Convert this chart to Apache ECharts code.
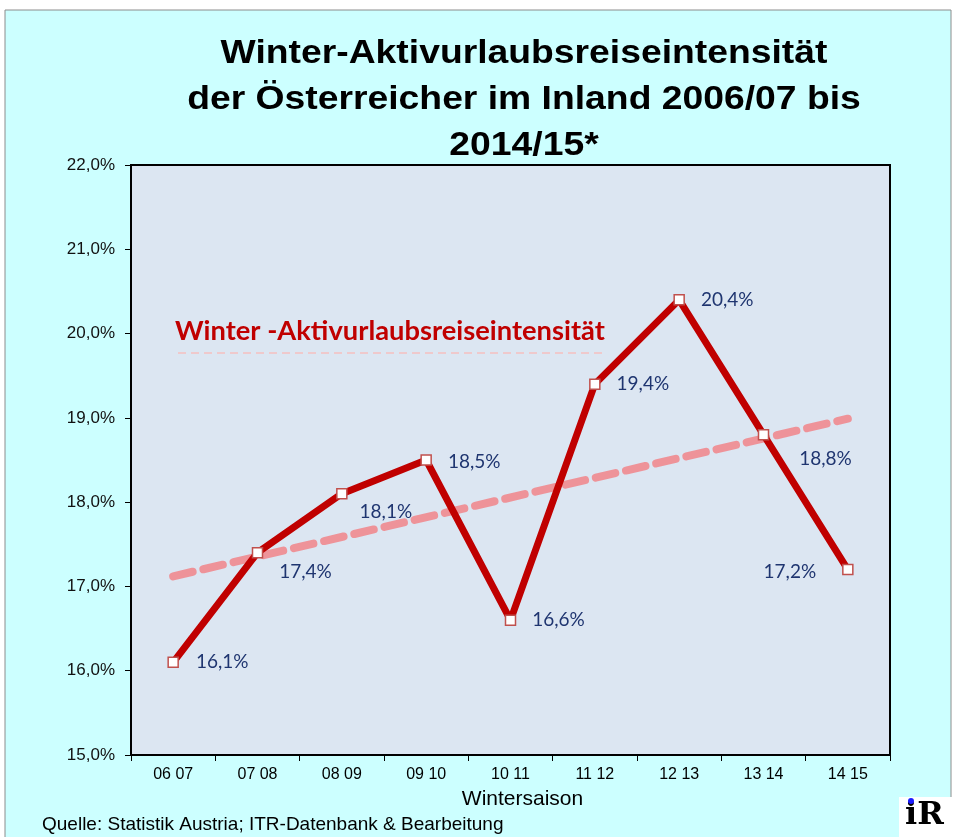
<!DOCTYPE html>
<html>
<head>
<meta charset="utf-8">
<script src="https://cdn.jsdelivr.net/npm/echarts@6/dist/echarts.min.js"></script>
<style>
  html, body { margin: 0; padding: 0; background: #ffffff; }
  #main { width: 955px; height: 837px; }
</style>
</head>
<body>
<div id="main"></div>
<script>
// Winter-Aktivurlaubsreiseintensität, Werte
const seasons = ['06 07', '07 08', '08 09', '09 10', '10 11', '11 12', '12 13', '13 14', '14 15']
const intensity = [16.1, 17.4, 18.1, 18.5, 16.6, 19.4, 20.4, 18.8, 17.2]
const trend = [17.12, null, null, null, null, null, null, null, 18.99]
const yTicks = { min: 15, max: 22, interval: 1 }

// Beschriftungsversatz je Punkt (Pixel)
const labelOffsets = [
  [11, 0], [10, 19], [6, 18], [10, 2], [10, 0], [10, 0], [10, 0], [24, 24], [-96, 2]
]

function pct(v) {
  return v.toFixed(1).replace('.', ',') + '%'
}

const chart = echarts.init(document.getElementById('main'), null, { renderer: 'canvas' })

const option = {
  backgroundColor: '#ffffff',
  animation: false,
  graphic: [
    {
      type: 'rect', z: -10, silent: true,
      shape: { x: 5, y: 10, width: 946, height: 840 },
      style: { fill: '#ccffff', stroke: '#8c8c8c', lineWidth: 1 }
    },
    {
      // Titel, leicht in die Breite gezogen wie im Original
      type: 'text', x: 524, y: 31, scaleX: 1.13,
      style: {
        text: 'Winter-Aktivurlaubsreiseintensität\nder Österreicher im Inland 2006/07 bis\n2014/15*',
        align: 'center',
        verticalAlign: 'top',
        lineHeight: 46,
        fill: '#000',
        font: 'bold 33px "Liberation Sans", Arial, sans-serif'
      }
    },
    {
      type: 'text', z: 10, x: 175, y: 319, scaleX: 1.05,
      style: {
        text: 'Winter -Aktivurlaubsreiseintensität',
        fill: '#c00000',
        font: 'bold 26px Lato, "Open Sans", sans-serif'
      }
    },
    {
      type: 'line', z: 10, silent: true,
      shape: { x1: 178, y1: 353, x2: 605, y2: 353 },
      style: { stroke: '#efc9cc', lineWidth: 2, lineDash: [8, 5] }
    },
    {
      type: 'text', left: 42, top: 815,
      style: {
        text: 'Quelle: Statistik Austria; ITR-Datenbank & Bearbeitung',
        fill: '#000',
        font: '19px "Liberation Sans", Arial, sans-serif'
      }
    },
    {
      type: 'rect', silent: true,
      shape: { x: 899, y: 797, width: 56, height: 40 },
      style: { fill: '#ffffff' }
    },
    {
      type: 'text', left: 905, top: 800,
      style: { text: 'iR', fill: '#000', font: 'bold 32px "DejaVu Serif", serif' }
    },
    {
      type: 'circle', silent: true,
      shape: { cx: 911, cy: 801, r: 3 },
      style: { fill: '#1a1aff' }
    }
  ],
  grid: {
    left: 131,
    right: 65,
    top: 165,
    bottom: 82,
    show: true,
    backgroundColor: '#dce6f2',
    borderColor: '#000',
    borderWidth: 2
  },
  xAxis: {
    type: 'category',
    data: seasons,
    boundaryGap: true,
    name: 'Wintersaison',
    nameLocation: 'middle',
    nameGap: 34,
    nameTextStyle: {
      fontFamily: 'Liberation Sans, Arial, sans-serif',
      fontSize: 21,
      color: '#000',
      padding: [0, 0, 0, 24]
    },
    axisLine: { lineStyle: { color: '#000', width: 2 } },
    axisTick: { show: true, length: 6, lineStyle: { color: '#000' } },
    axisLabel: {
      margin: 12,
      fontFamily: 'Liberation Sans, Arial, sans-serif',
      fontSize: 16,
      color: '#000'
    },
    splitLine: { show: false }
  },
  yAxis: {
    type: 'value',
    min: yTicks.min,
    max: yTicks.max,
    interval: yTicks.interval,
    axisLine: { show: true, lineStyle: { color: '#000', width: 2 } },
    axisTick: { show: true, length: 6, lineStyle: { color: '#000' } },
    axisLabel: {
      margin: 16,
      formatter: pct,
      fontFamily: 'Liberation Sans, Arial, sans-serif',
      fontSize: 17,
      color: '#111'
    },
    splitLine: { show: false }
  },
  series: [
    {
      name: 'Trend',
      type: 'line',
      data: trend,
      connectNulls: true,
      symbol: 'none',
      silent: true,
      z: 2,
      lineStyle: {
        color: '#ef8a8f',
        width: 8,
        type: [20, 11],
        cap: 'round',
        opacity: 0.9
      }
    },
    {
      name: 'Winter -Aktivurlaubsreiseintensität',
      type: 'line',
      z: 3,
      data: intensity.map((v, i) => ({
        value: v,
        label: { offset: labelOffsets[i] }
      })),
      symbol: 'rect',
      symbolSize: 10,
      itemStyle: { color: '#ffffff', borderColor: '#c0504d', borderWidth: 1.5 },
      lineStyle: { color: '#c00000', width: 7 },
      label: {
        show: true,
        position: 'right',
        distance: 6,
        formatter: p => pct(p.value),
        fontFamily: 'Lato, "Open Sans", sans-serif',
        fontSize: 19,
        color: '#1f3570'
      }
    }
  ]
}

chart.setOption(option)
</script>
</body>
</html>
